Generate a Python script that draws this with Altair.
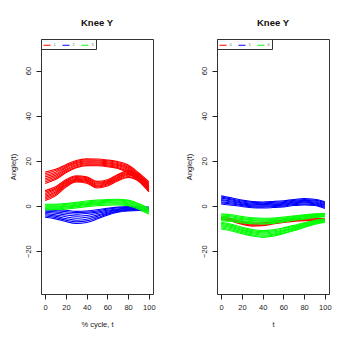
import altair as alt
import pandas as pd

T = [0, 10, 20, 30, 40, 50, 60, 70, 80, 90, 100]
X_TICKS = [0, 20, 40, 60, 80, 100]
Y_TICKS = [-20, 0, 20, 40, 60]
COLORS = ["#FF0000", "#0000FF", "#00FF00"]
LEFT_LABELS = ["1", "2", "3"]
RIGHT_LABELS = ["4", "5", "6"]

# Left panel curves
left_red = [
    [15.0, 16.3, 18.3, 20.2, 20.9, 20.8, 20.4, 19.7, 18.2, 14.8, 10.8],
    [14.3, 15.7, 17.8, 19.7, 20.5, 20.4, 20.0, 19.3, 17.7, 14.3, 10.2],
    [13.6, 15.0, 17.3, 19.3, 20.0, 20.0, 19.6, 18.8, 17.2, 13.8, 9.6],
    [12.9, 14.3, 16.8, 18.8, 19.6, 19.5, 19.1, 18.4, 16.7, 13.2, 8.9],
    [12.1, 13.6, 16.2, 18.3, 19.1, 19.1, 18.7, 18.0, 16.2, 12.7, 8.3],
    [11.4, 13.0, 15.7, 17.8, 18.7, 18.6, 18.2, 17.5, 15.7, 12.1, 7.6],
    [10.7, 12.3, 15.2, 17.3, 18.3, 18.2, 17.8, 17.0, 15.2, 11.6, 7.0],
    [10.0, 11.7, 14.7, 16.9, 17.9, 17.8, 17.4, 16.6, 14.7, 11.1, 6.4],
    [6.8, 8.5, 11.6, 13.4, 12.9, 10.9, 11.6, 13.9, 15.7, 14.0, 9.6],
    [6.2, 7.9, 11.1, 13.0, 12.5, 10.5, 11.2, 13.5, 15.3, 13.6, 9.1],
    [5.5, 7.4, 10.7, 12.6, 12.1, 10.1, 10.8, 13.1, 14.8, 13.1, 8.7],
    [4.9, 6.8, 10.2, 12.2, 11.7, 9.7, 10.4, 12.7, 14.4, 12.7, 8.2],
    [4.3, 6.2, 9.8, 11.8, 11.3, 9.2, 10.1, 12.3, 14.0, 12.3, 7.8],
    [3.7, 5.7, 9.3, 11.4, 10.9, 8.8, 9.7, 11.9, 13.6, 11.9, 7.3],
    [3.0, 5.1, 8.9, 11.0, 10.5, 8.4, 9.3, 11.5, 13.1, 11.4, 6.9],
    [2.4, 4.5, 8.4, 10.6, 10.1, 8.0, 8.9, 11.1, 12.7, 11.0, 6.4],
]
left_blue = [
    [-1.3, -1.5, -1.9, -2.4, -2.2, -1.7, -1.0, -0.5, -0.3, -0.3, -0.5],
    [-1.8, -2.0, -2.5, -2.9, -2.7, -2.2, -1.4, -0.9, -0.6, -0.6, -0.8],
    [-2.3, -2.6, -3.2, -3.6, -3.3, -2.7, -1.9, -1.3, -1.0, -0.9, -1.1],
    [-2.8, -3.2, -4.0, -4.5, -4.2, -3.3, -2.3, -1.6, -1.2, -1.1, -1.3],
    [-3.3, -3.9, -4.8, -5.4, -5.0, -4.0, -2.8, -1.9, -1.5, -1.3, -1.5],
    [-3.9, -4.5, -5.6, -6.3, -5.9, -4.6, -3.2, -2.2, -1.7, -1.5, -1.7],
    [-4.4, -5.1, -6.3, -7.0, -6.6, -5.2, -3.6, -2.5, -1.9, -1.7, -1.9],
    [-5.0, -5.7, -6.9, -7.7, -7.3, -5.8, -4.1, -2.8, -2.2, -2.0, -2.2],
]
left_green = [
    [0.8, 0.8, 1.1, 1.6, 2.2, 2.6, 2.9, 3.0, 2.6, 1.1, -1.0],
    [0.4, 0.4, 0.7, 1.2, 1.8, 2.2, 2.5, 2.6, 2.2, 0.7, -1.4],
    [0.0, 0.0, 0.3, 0.8, 1.4, 1.8, 2.1, 2.2, 1.8, 0.3, -1.9],
    [-0.4, -0.4, -0.1, 0.4, 1.0, 1.4, 1.7, 1.8, 1.4, -0.1, -2.3],
    [-0.8, -0.8, -0.5, 0.0, 0.6, 1.0, 1.3, 1.4, 1.0, -0.5, -2.7],
    [-1.2, -1.2, -0.9, -0.4, 0.2, 0.6, 0.9, 1.0, 0.6, -0.9, -3.2],
    [-1.6, -1.6, -1.4, -0.9, -0.3, 0.1, 0.4, 0.5, 0.1, -1.4, -3.6],
]

# Right panel curves
right_red = [
    [-4.8, -5.6, -6.8, -7.6, -7.5, -6.9, -6.2, -5.7, -5.4, -5.4, -5.6],
    [-5.1, -6.0, -7.3, -8.1, -8.0, -7.3, -6.6, -6.1, -5.8, -5.8, -6.0],
    [-5.4, -6.3, -7.7, -8.5, -8.4, -7.7, -7.0, -6.5, -6.2, -6.2, -6.4],
    [-5.7, -6.7, -8.1, -8.9, -8.7, -8.0, -7.3, -6.8, -6.5, -6.5, -6.7],
]
right_blue = [
    [4.5, 3.6, 2.6, 2.0, 1.8, 2.0, 2.3, 2.9, 3.3, 3.0, 1.9],
    [4.0, 3.1, 2.2, 1.6, 1.4, 1.6, 1.9, 2.5, 2.9, 2.6, 1.5],
    [3.5, 2.7, 1.8, 1.2, 1.0, 1.2, 1.5, 2.1, 2.5, 2.2, 1.0],
    [2.9, 2.2, 1.4, 0.8, 0.6, 0.8, 1.1, 1.7, 2.1, 1.8, 0.6],
    [2.4, 1.8, 1.0, 0.4, 0.3, 0.5, 0.8, 1.4, 1.7, 1.4, 0.2],
    [1.9, 1.3, 0.6, 0.0, -0.1, 0.1, 0.4, 1.0, 1.3, 1.0, -0.2],
    [1.4, 0.9, 0.2, -0.4, -0.5, -0.3, 0.0, 0.6, 0.9, 0.6, -0.7],
    [0.9, 0.4, -0.2, -0.8, -0.9, -0.7, -0.4, 0.2, 0.5, 0.2, -1.1],
]
right_green = [
    [-3.5, -3.9, -4.6, -5.2, -5.4, -5.3, -4.9, -4.4, -3.9, -3.5, -3.2],
    [-4.0, -4.4, -5.1, -5.6, -5.8, -5.7, -5.3, -4.7, -4.2, -3.8, -3.5],
    [-4.5, -4.9, -5.6, -6.1, -6.3, -6.1, -5.6, -5.1, -4.5, -4.1, -3.7],
    [-5.0, -5.4, -6.0, -6.5, -6.7, -6.5, -6.0, -5.4, -4.8, -4.3, -4.0],
    [-5.5, -5.9, -6.5, -7.0, -7.1, -6.9, -6.4, -5.7, -5.2, -4.6, -4.3],
    [-6.0, -6.4, -7.0, -7.4, -7.6, -7.3, -6.7, -6.1, -5.5, -4.9, -4.5],
    [-6.5, -6.9, -7.5, -7.9, -8.0, -7.7, -7.1, -6.4, -5.8, -5.2, -4.8],
    [-7.2, -8.1, -9.4, -10.4, -10.9, -10.6, -9.7, -8.6, -7.4, -6.4, -5.7],
    [-7.7, -8.6, -9.9, -10.9, -11.4, -11.1, -10.1, -9.0, -7.8, -6.7, -6.0],
    [-8.2, -9.1, -10.4, -11.4, -11.9, -11.5, -10.6, -9.4, -8.1, -7.0, -6.2],
    [-8.7, -9.6, -10.8, -11.8, -12.4, -12.0, -11.0, -9.8, -8.5, -7.3, -6.5],
    [-9.2, -10.1, -11.3, -12.3, -12.9, -12.5, -11.4, -10.2, -8.8, -7.6, -6.7],
    [-9.7, -10.6, -11.8, -12.8, -13.4, -12.9, -11.9, -10.6, -9.2, -7.9, -7.0],
    [-10.2, -11.1, -12.3, -13.3, -13.9, -13.4, -12.3, -11.0, -9.5, -8.2, -7.2],
]


def build_df(groups, labels):
    rows = []
    for label, curves in zip(labels, groups):
        for ci, curve in enumerate(curves):
            for t, v in zip(T, curve):
                rows.append({"t": t, "angle": v, "group": label, "curve": f"{label}-{ci:02d}"})
    return pd.DataFrame(rows)


FONT = "Liberation Sans"


def panel(df, labels, xtitle):
    base = alt.Chart(df).mark_line(strokeWidth=1.1, interpolate="monotone").encode(
        x=alt.X("t:Q",
                scale=alt.Scale(domain=[-4, 104], nice=False, zero=False),
                axis=alt.Axis(values=X_TICKS, title=xtitle, domain=False, grid=False,
                              tickSize=5, tickColor="#222", labelPadding=4,
                              labelFontSize=7.5, titleFontSize=7.5, titlePadding=10,
                              titleFontWeight="normal", labelFont=FONT, titleFont=FONT,
                              labelColor="#222", titleColor="#222")),
        y=alt.Y("angle:Q",
                scale=alt.Scale(domain=[-39, 74], nice=False, zero=False),
                axis=alt.Axis(values=Y_TICKS, title="Angle(t)", domain=False, grid=False,
                              tickSize=5, tickColor="#222", labelPadding=4,
                              labelAngle=270, labelAlign="center", labelBaseline="bottom",
                              labelFontSize=7.5, titleFontSize=7.5, titleFontWeight="normal",
                              titleAngle=270, titleBaseline="bottom", titleAlign="center",
                              titleX=-24, titleY=127.5,
                              labelFont=FONT, titleFont=FONT,
                              labelColor="#222", titleColor="#222")),
        color=alt.Color("group:N",
                        scale=alt.Scale(domain=labels, range=COLORS),
                        legend=alt.Legend(title=None, orient="top-left", offset=0,
                                          direction="horizontal", symbolType="stroke",
                                          symbolSize=50, symbolStrokeWidth=1,
                                          labelFontSize=4, labelColor="#777", labelOffset=2,
                                          columnPadding=3, padding=1.5,
                                          strokeColor="#333", fillColor="white",
                                          labelFont=FONT)),
        detail="curve:N",
    )
    layers = [base.transform_filter(alt.datum.group == g) for g in labels]
    return alt.layer(*layers).properties(
        width=112, height=255,
        title=alt.TitleParams("Knee Y", fontSize=9.5, fontWeight="bold", offset=11,
                              font=FONT, color="#111"),
    )


left = panel(build_df([left_red, left_blue, left_green], LEFT_LABELS), LEFT_LABELS, "% cycle, t")
right = panel(build_df([right_red, right_blue, right_green], RIGHT_LABELS), RIGHT_LABELS, "t")

chart = alt.hconcat(left, right, spacing=28).resolve_scale(color="independent").properties(
    padding={"left": 0, "top": 9, "right": 0, "bottom": 0}
).configure_view(stroke="#333", strokeWidth=1)

chart.save("out.html", embed_options={"renderer": "svg", "actions": False})
